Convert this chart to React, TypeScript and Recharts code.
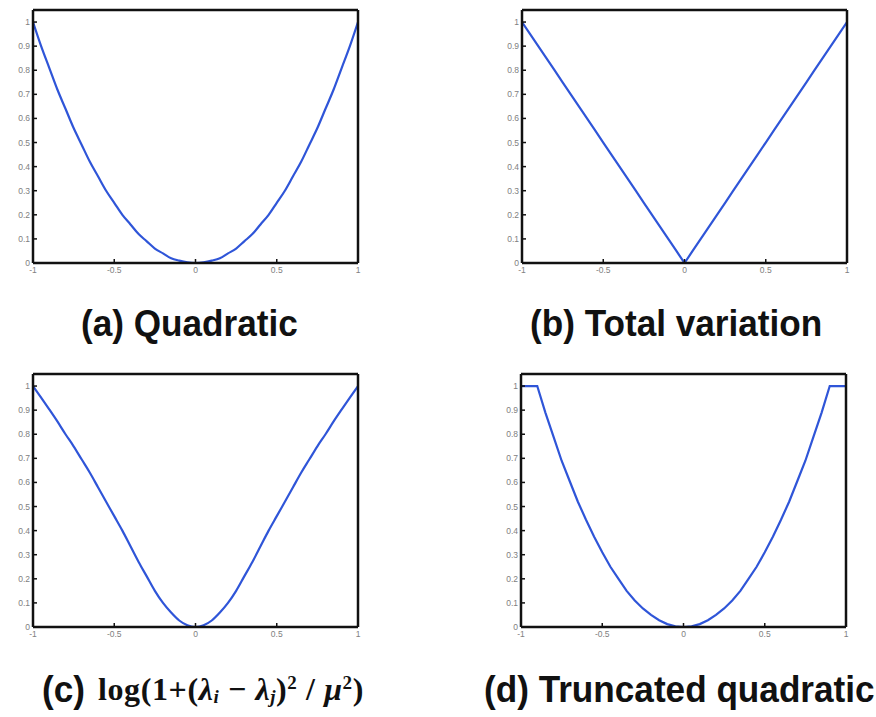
import { LineChart, Line, XAxis, YAxis } from 'recharts'

// sample positions along the horizontal axis
const xs = [
  -1, -0.95, -0.9, -0.85, -0.8, -0.75, -0.7, -0.65, -0.6, -0.55, -0.5, -0.45, -0.4, -0.35, -0.3, -0.25, -0.2, -0.15, -0.1, -0.05,
  0, 0.05, 0.1, 0.15, 0.2, 0.25, 0.3, 0.35, 0.4, 0.45, 0.5, 0.55, 0.6, 0.65, 0.7, 0.75, 0.8, 0.85, 0.9, 0.95, 1,
]

const quadratic = [
  1, 0.9, 0.81, 0.72, 0.64, 0.56, 0.49, 0.42, 0.36, 0.3, 0.25, 0.2, 0.16, 0.12, 0.09, 0.06, 0.04, 0.02, 0.01, 0.003,
  0, 0.003, 0.01, 0.02, 0.04, 0.06, 0.09, 0.12, 0.16, 0.2, 0.25, 0.3, 0.36, 0.42, 0.49, 0.56, 0.64, 0.72, 0.81, 0.9, 1,
]

const totalVariation = [
  1, 0.95, 0.9, 0.85, 0.8, 0.75, 0.7, 0.65, 0.6, 0.55, 0.5, 0.45, 0.4, 0.35, 0.3, 0.25, 0.2, 0.15, 0.1, 0.05,
  0, 0.05, 0.1, 0.15, 0.2, 0.25, 0.3, 0.35, 0.4, 0.45, 0.5, 0.55, 0.6, 0.65, 0.7, 0.75, 0.8, 0.85, 0.9, 0.95, 1,
]

const logPenalty = [
  1, 0.952, 0.903, 0.853, 0.8, 0.75, 0.695, 0.64, 0.58, 0.52, 0.46, 0.4, 0.335, 0.27, 0.21, 0.15, 0.1, 0.06, 0.027, 0.007,
  0, 0.007, 0.027, 0.06, 0.1, 0.15, 0.21, 0.27, 0.335, 0.4, 0.46, 0.52, 0.58, 0.64, 0.695, 0.75, 0.8, 0.853, 0.903, 0.952, 1,
]

const truncatedQuadratic = [
  1, 1, 1, 0.89, 0.79, 0.69, 0.605, 0.52, 0.445, 0.375, 0.31, 0.25, 0.2, 0.15, 0.11, 0.077, 0.05, 0.028, 0.012, 0.003,
  0, 0.003, 0.012, 0.028, 0.05, 0.077, 0.11, 0.15, 0.2, 0.25, 0.31, 0.375, 0.445, 0.52, 0.605, 0.69, 0.79, 0.89, 1, 1, 1,
]

const xTicks = [-1, -0.5, 0, 0.5, 1]
const yTicks = [0, 0.1, 0.2, 0.3, 0.4, 0.5, 0.6, 0.7, 0.8, 0.9, 1]

const BLUE = '#2f55d8'
const PLOT_W = 325
const PLOT_H = 253

const frame = { stroke: '#111', strokeWidth: 2.5 }
const tickFont = { fill: '#808080', fontSize: 8.5, fontFamily: 'Liberation Sans, Arial, sans-serif' }

function Panel({ values, left, top, curve }: { values: number[]; left: number; top: number; curve: 'monotone' | 'linear' }) {
  const data = xs.map((x, i) => ({ x, y: values[i] }))
  return (
    <div style={{ position: 'absolute', left: left - 40, top: top - 6 }}>
      <LineChart
        width={40 + PLOT_W + 1 + 20}
        height={5 + 1 + PLOT_H + 25}
        data={data}
        margin={{ top: 5, right: 20, left: 0, bottom: 0 }}
      >
        <XAxis
          type="number"
          dataKey="x"
          domain={[-1, 1]}
          allowDataOverflow
          ticks={xTicks}
          height={25}
          tickSize={-4}
          tickMargin={8}
          axisLine={frame}
          tickLine={{ stroke: '#111', strokeWidth: 1.5 }}
          tick={tickFont}
        />
        <XAxis
          xAxisId="top"
          orientation="top"
          type="number"
          domain={[-1, 1]}
          allowDataOverflow
          ticks={xTicks}
          height={1}
          tickSize={-4}
          axisLine={frame}
          tickLine={{ stroke: '#111', strokeWidth: 1.5 }}
          tick={false}
        />
        <YAxis
          type="number"
          domain={[0, 1.05]}
          allowDataOverflow
          ticks={yTicks}
          width={40}
          tickSize={-4}
          tickMargin={7}
          axisLine={frame}
          tickLine={{ stroke: '#111', strokeWidth: 1.5 }}
          tick={tickFont}
        />
        <YAxis
          yAxisId="right"
          orientation="right"
          type="number"
          domain={[0, 1.05]}
          allowDataOverflow
          ticks={yTicks}
          width={1}
          tickSize={-4}
          axisLine={frame}
          tickLine={{ stroke: '#111', strokeWidth: 1.5 }}
          tick={false}
        />
        <Line
          type={curve}
          dataKey="y"
          stroke={BLUE}
          strokeWidth={2.2}
          dot={false}
          isAnimationActive={false}
        />
      </LineChart>
    </div>
  )
}

const titleStyle = {
  position: 'absolute' as const,
  fontFamily: '"Liberation Sans", Arial, sans-serif',
  fontWeight: 700,
  fontSize: 37,
  lineHeight: '37px',
  color: '#111',
  whiteSpace: 'nowrap' as const,
  transform: 'scaleX(0.95)',
  transformOrigin: 'left top',
}

const mathStyle = {
  position: 'absolute' as const,
  fontFamily: '"Liberation Serif", "Times New Roman", serif',
  fontWeight: 700,
  fontSize: 32,
  lineHeight: '32px',
  letterSpacing: '0.6px',
  color: '#111',
  whiteSpace: 'nowrap' as const,
}

const subStyle = { fontSize: 19, verticalAlign: '-0.18em', lineHeight: 0 }
const supStyle = { fontSize: 19, verticalAlign: '0.6em', lineHeight: 0 }

export default function App() {
  return (
    <div style={{ position: 'absolute', left: 0, top: 0, width: 876, height: 717, background: '#fff', overflow: 'hidden' }}>
      <Panel values={quadratic} left={33} top={10} curve="monotone" />
      <Panel values={totalVariation} left={522} top={10} curve="linear" />
      <Panel values={logPenalty} left={33} top={374} curve="monotone" />
      <Panel values={truncatedQuadratic} left={521} top={374} curve="linear" />

      <div style={{ ...titleStyle, left: 81, top: 305 }}>(a) Quadratic</div>
      <div style={{ ...titleStyle, left: 530, top: 305 }}>(b) Total variation</div>
      <div style={{ ...titleStyle, left: 42, top: 671 }}>(c)</div>
      <div style={{ ...mathStyle, left: 98, top: 673 }}>
        log(1+(<i>λ</i>
        <span style={subStyle}><i>i</i></span> − <i>λ</i>
        <span style={subStyle}><i>j</i></span>)
        <span style={supStyle}>2</span> / <i>μ</i>
        <span style={supStyle}>2</span>)
      </div>
      <div style={{ ...titleStyle, left: 484, top: 671 }}>(d) Truncated quadratic</div>
    </div>
  )
}
